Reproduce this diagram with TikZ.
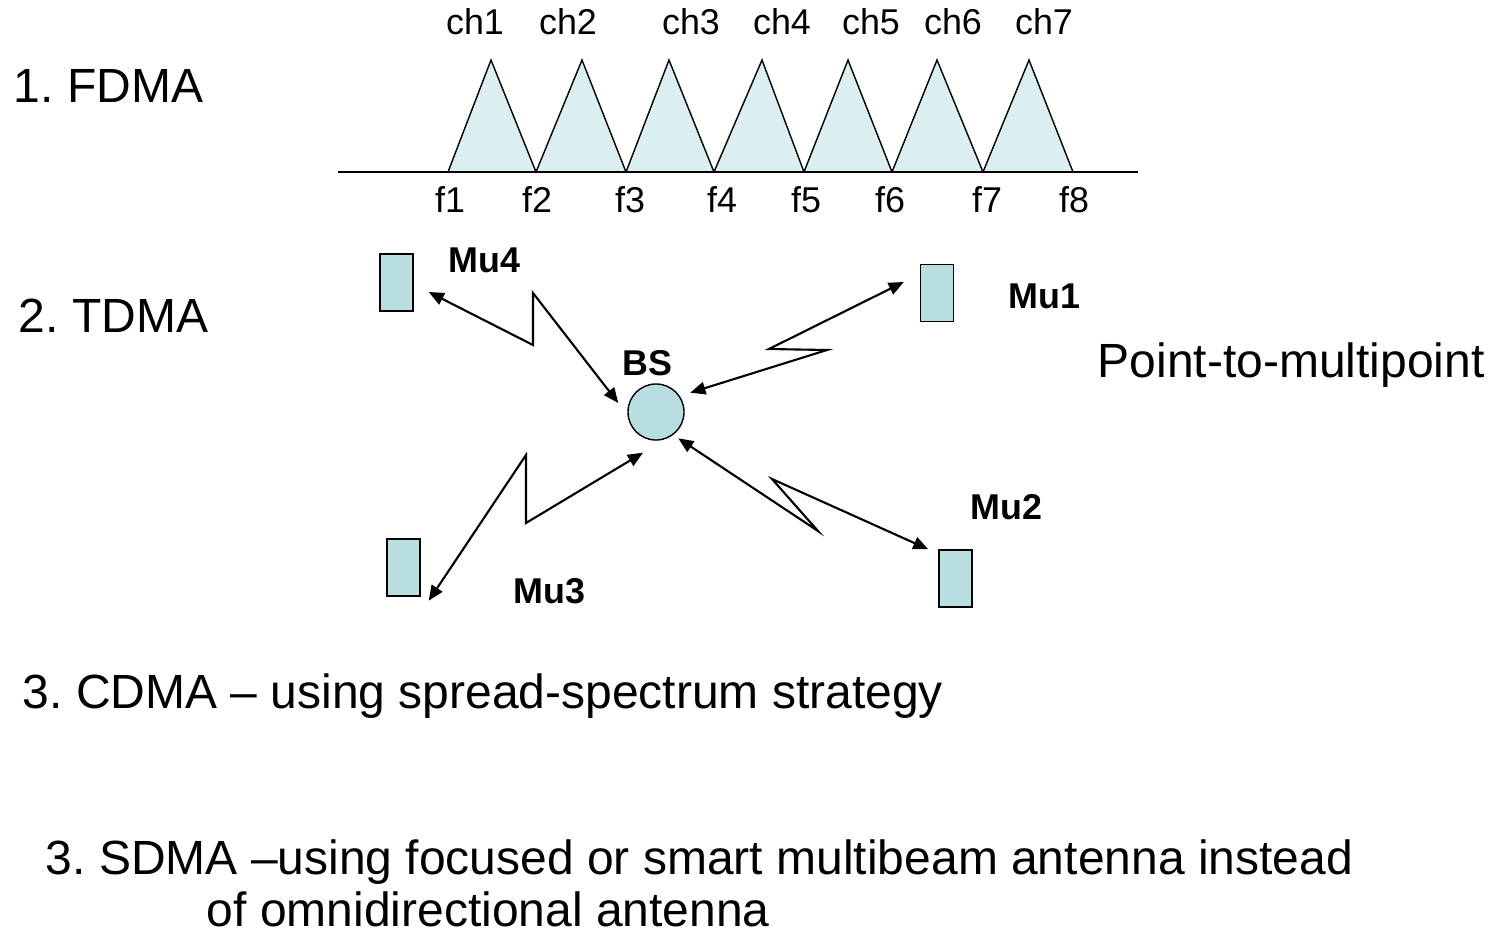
\documentclass[tikz,border=0pt]{standalone}
\usepackage{fontspec}
\setmainfont{Liberation Sans}
\usetikzlibrary{arrows.meta,positioning}
\definecolor{unitfill}{RGB}{184,222,224}
\definecolor{chanfill}{RGB}{219,238,240}
\frenchspacing

\begin{document}
\begin{tikzpicture}[x=0.01cm, y=-0.01cm,
  big/.style={font=\fontsize{13.65}{16}\selectfont, inner sep=0pt, anchor=base west},
  lab/.style={font=\fontsize{10.2}{12}\selectfont, inner sep=0pt, anchor=base},
  mulab/.style={font=\fontsize{10.2}{12}\selectfont\bfseries, inner sep=0pt, anchor=base west},
  unit/.style={draw, fill=unitfill, line width=0.4pt, minimum width=0.33cm,
               minimum height=0.57cm, inner sep=0pt},
  chan/.style={draw, fill=chanfill, line width=0.4pt},
  link/.style={{Triangle[length=4.3pt,width=3.6pt]}-{Triangle[length=4.3pt,width=3.6pt]},
               line width=0.6pt}
]
  \useasboundingbox (0,0) rectangle (1502,936);

  % ── 1. FDMA: channels on the frequency axis ──
  \node[big] (fdma) at (13,102) {1. FDMA};

  \foreach \a/\t/\b in {448/491/536, 536/582/626, 626/669/714, 714/762/804,
                        804/848/892, 892/937/983, 983/1029/1073}
    \filldraw[chan] (\a,172) -- (\t,60) -- (\b,172) -- cycle;
  \draw[line width=0.8pt] (338,172) -- (1138,172);

  \foreach \x/\n in {475/1, 568/2, 691/3, 782/4, 871/5, 953/6, 1044/7}
    \node[lab] (ch\n) at (\x,34) {ch\n};
  \foreach \x/\n in {450/1, 537/2, 630/3, 722/4, 806/5, 890/6, 987/7, 1074/8}
    \node[lab] (f\n) at (\x,212) {f\n};

  % ── 2. TDMA: base station and mobile units ──
  \node[big] (tdma) at (18,332) {2. TDMA};
  \node[big] (ptmp) at (1097,377) {Point-to-multipoint};

  \node[circle, draw, fill=unitfill, line width=0.4pt, minimum size=0.56cm,
        inner sep=0pt] (bs) at (656,412) {};
  \node[mulab] (bsl) at (622,375) {BS};

  \node[unit] (mu4) at (396.5,282.5) {};
  \node[unit] (mu1) at (937,293) {};
  \node[unit] (mu3) at (403.5,567.5) {};
  \node[unit] (mu2) at (955.5,578.5) {};

  \node[mulab] (mu4l) at (448,272) {Mu4};
  \node[mulab] (mu1l) at (1008,308) {Mu1};
  \node[mulab] (mu3l) at (513,603) {Mu3};
  \node[mulab] (mu2l) at (970,519) {Mu2};

  % zigzag bends
  \coordinate (k4a) at (533,345); \coordinate (k4b) at (533,293);
  \coordinate (k1a) at (827,350); \coordinate (k1b) at (769,349);
  \coordinate (k3a) at (526,455); \coordinate (k3b) at (526,523);
  \coordinate (k2a) at (818,531); \coordinate (k2b) at (772,479);

  \draw[link] ([shift={(15,9.5)}]mu4.east) -- (k4a) -- (k4b)
              -- ([shift={(-9,-9)}]bs.west);
  \draw[link] ([shift={(14,1)}]bs.north east) -- (k1a) -- (k1b)
              -- ([shift={(-16,-11)}]mu1.west);
  \draw[link] ([shift={(8,4)}]mu3.south east) -- (k3a) -- (k3b)
              -- ([shift={(-13,12)}]bs.south);
  \draw[link] ([shift={(2,6)}]bs.south east) -- (k2a) -- (k2b)
              -- ([shift={(-10,0)}]mu2.north west);

  % ── 3. CDMA / SDMA ──
  \node[big] (cdma) at (22,708) {3. CDMA – using spread-spectrum strategy};
  \node[big] (sdma) at (45,874) {3. SDMA –using focused or smart multibeam antenna instead};
  \node[big] (sdma2) at (206,926) {of omnidirectional antenna};
\end{tikzpicture}
\end{document}
